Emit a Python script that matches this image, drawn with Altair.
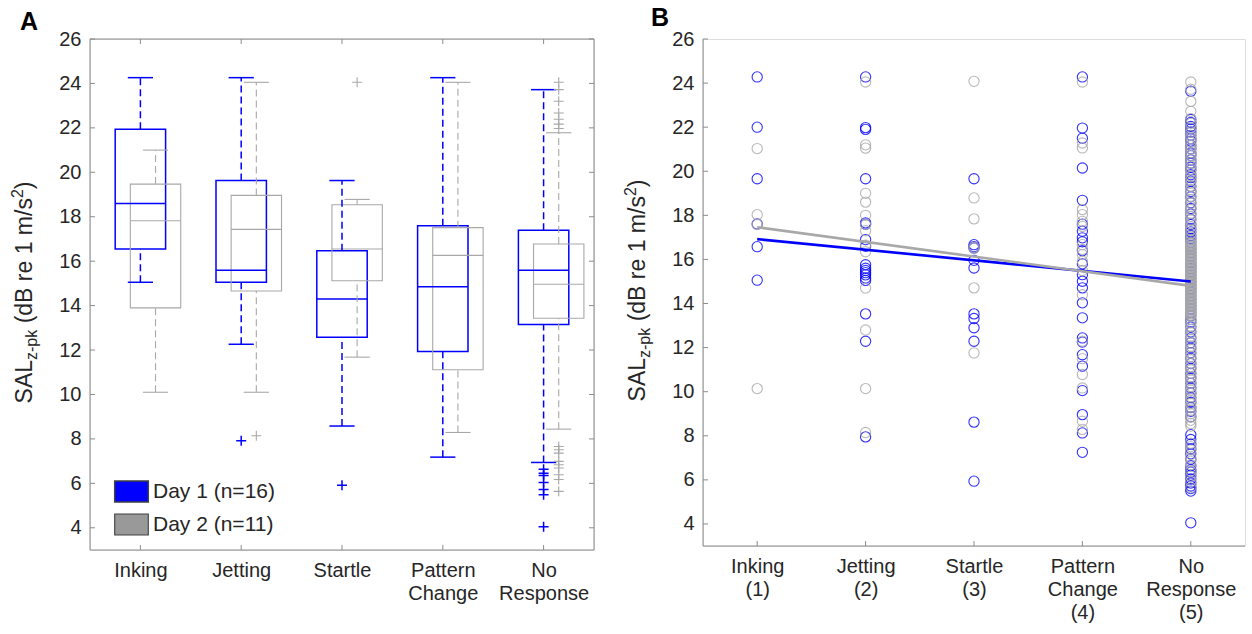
import json
import altair as alt
import pandas as pd

FONT = "Liberation Sans"
TXT = "#262626"
AXC = "#8c8c8c"
BLUE = "#0000FF"
BLUE_PT = "#2b2bff"
GRAY_BOX = "#A8A8A8"
GRAY_SW = "#999999"
GRAY_PT = "#A3A3A3"
GRAY_FIT = "#8C8C8C"

CATS = [1, 2, 3, 4, 5]
A_LABELS = ["Inking", "Jetting", "Startle", "Pattern Change", "No Response"]
B_LABELS = ["Inking (1)", "Jetting (2)", "Startle (3)", "Pattern Change (4)", "No Response (5)"]
DAYS = ["Day 1 (n=16)", "Day 2 (n=11)"]
Y_TICKS = [4, 6, 8, 10, 12, 14, 16, 18, 20, 22, 24, 26]

# ---- Panel A box statistics ----
D1_LO = [15.05, 12.26, 8.58, 7.18, 6.94]
D1_Q1 = [16.55, 15.05, 12.58, 11.93, 13.15]
D1_MED = [18.60, 15.59, 14.30, 14.85, 15.59]
D1_Q3 = [21.94, 19.63, 16.47, 17.60, 17.39]
D1_HI = [24.26, 24.26, 19.63, 24.26, 23.72]

D2_LO = [10.10, 10.10, 11.68, 8.29, 8.44]
D2_Q1 = [13.90, 14.66, 15.12, 11.11, 13.43]
D2_MED = [17.82, 17.43, 16.55, 16.26, 14.96]
D2_Q3 = [19.47, 18.96, 18.54, 17.51, 16.77]
D2_HI = [21.00, 24.05, 18.78, 24.05, 21.78]

D1_OUT_CAT = [2, 3, 5, 5, 5, 5, 5, 5, 5]
D1_OUT_VAL = [7.92, 5.91, 6.64, 6.46, 6.35, 6.04, 5.72, 5.49, 4.05]
D2_OUT_CAT = [2, 3] + [5] * 16
D2_OUT_VAL = [8.14, 24.05, 24.05, 23.72, 23.20, 22.67, 22.39, 22.17, 21.97,
              7.66, 7.51, 7.36, 6.99, 6.84, 6.69, 6.39, 6.17, 5.64]

# ---- Panel B individual values ----
B1_INK = [24.28, 22.00, 19.66, 17.61, 16.58, 15.06]
B1_JET = [24.28, 21.98, 21.90, 19.66, 17.66, 17.60, 16.90, 16.60, 15.76, 15.60,
          15.50, 15.40, 15.30, 15.16, 15.05, 13.53, 12.29, 7.95]
B1_STA = [19.66, 16.67, 16.58, 16.52, 15.96, 15.61, 13.53, 13.32, 12.90, 12.29, 8.62, 5.94]
B1_PAT = [24.28, 21.96, 21.50, 20.15, 18.68, 17.60, 17.28, 16.98, 16.80, 16.40, 15.80,
          15.31, 15.01, 14.71, 14.03, 13.35, 12.44, 12.25, 11.68, 11.16, 10.05, 8.96, 8.13, 7.25]
B1_NOR = [23.63, 22.35, 22.21, 22.03, 21.92, 21.78, 21.63, 21.48, 21.37, 21.18, 21.02,
          20.83, 20.71, 20.52, 20.37, 20.18, 20.06, 19.84, 19.71, 19.55, 19.31, 19.08,
          18.84, 18.57, 18.31, 18.06, 17.82, 17.58, 17.39,
          17.25, 17.09, 16.94, 16.78, 16.62, 16.47, 16.31, 16.16, 16.02, 15.86, 15.71,
          15.59, 15.44, 15.29, 15.13, 14.98, 14.82, 14.67, 14.51, 14.36, 14.21, 14.05,
          13.90, 13.75, 13.59, 13.44, 13.28, 13.15,
          12.93, 12.71, 12.44, 12.22, 11.98, 11.77, 11.52, 11.28, 11.06, 10.83, 10.62,
          10.38, 10.17, 9.94, 9.73, 9.52, 9.28, 9.11, 8.86, 8.05, 7.83, 7.62, 7.41, 7.18,
          6.94, 6.64, 6.46, 6.35, 6.21, 6.04, 5.86, 5.72, 5.61, 5.49, 4.05]

B2_INK = [21.03, 18.03, 17.58, 10.14]
B2_JET = [24.05, 21.20, 21.05, 19.00, 18.60, 18.00, 17.58, 17.30, 16.65, 16.35,
          14.70, 12.80, 10.14, 8.15]
B2_STA = [24.08, 18.79, 17.84, 16.55, 16.50, 14.71, 11.76]
B2_PAT = [24.05, 21.28, 21.06, 18.26, 18.03, 17.73, 17.50, 16.67, 16.45, 16.22, 15.92,
          15.50, 14.40, 12.29, 11.50, 10.78, 10.17, 8.66, 8.29]
B2_NOR = [24.05, 23.72, 23.17, 22.72, 22.39, 22.17, 21.97,
          21.78, 21.62, 21.49, 21.31, 21.16, 21.02, 20.85, 20.71, 20.54, 20.39, 20.24,
          20.08, 19.93, 19.78, 19.61, 19.47, 19.32, 19.16, 19.01, 18.86, 18.71, 18.55,
          18.41, 18.26, 18.09, 17.95, 17.79, 17.64, 17.48, 17.33, 17.17, 17.02, 16.88,
          16.77, 16.71, 16.66, 16.61, 16.55, 16.51, 16.45, 16.40, 16.35, 16.29, 16.24,
          16.19, 16.13, 16.08, 16.03, 15.98, 15.92, 15.87, 15.82, 15.76, 15.71, 15.66,
          15.61, 15.55, 15.50, 15.45, 15.39, 15.34, 15.29, 15.24, 15.18, 15.13, 15.07,
          15.02, 14.96, 14.91, 14.86, 14.81, 14.75, 14.70, 14.65, 14.59, 14.54, 14.49,
          14.43, 14.38, 14.33, 14.28, 14.22, 14.17, 14.12, 14.06, 14.01, 13.96, 13.91,
          13.85, 13.80, 13.75, 13.69, 13.64, 13.59, 13.54, 13.48, 13.43,
          13.28, 13.13, 12.97, 12.82, 12.67, 12.52, 12.36, 12.21, 12.06, 11.91, 11.75,
          11.60, 11.45, 11.29, 11.14, 10.99, 10.84, 10.68, 10.53, 10.38, 10.23, 10.07,
          9.92, 9.77, 9.61, 9.46, 9.31, 9.16, 9.00, 8.85, 8.70, 8.56, 8.44,
          7.66, 7.51, 7.36, 6.99, 6.84, 6.69, 6.39, 6.17, 5.91, 5.64]

FIT_X = [1, 5]
D1_FIT = [16.92, 15.00]
D2_FIT = [17.46, 14.80]

# ---------------- layout constants ----------------
WA, WB, HA, HB = 504, 542, 511, 507
OFF = {DAYS[0]: 0.0, DAYS[1]: 0.15}
BOXW, CAPW = 0.25, 0.125
TICK_FS, TITLE_FS, SUB_FS = 20, 23, 16

# ---------------- data frames ----------------
rows = []
for day, lo, q1, md, q3, hi in [
    (DAYS[0], D1_LO, D1_Q1, D1_MED, D1_Q3, D1_HI),
    (DAYS[1], D2_LO, D2_Q1, D2_MED, D2_Q3, D2_HI),
]:
    for i, c in enumerate(CATS):
        p = c + OFF[day]
        rows.append(dict(day=day, pos=p, bx0=p - BOXW, bx1=p + BOXW, cx0=p - CAPW, cx1=p + CAPW,
                         lo=lo[i], q1=q1[i], med=md[i], q3=q3[i], hi=hi[i]))
box_df = pd.DataFrame(rows)

out_df = pd.DataFrame(
    [dict(day=DAYS[0], pos=c + OFF[DAYS[0]], v=v) for c, v in zip(D1_OUT_CAT, D1_OUT_VAL)]
    + [dict(day=DAYS[1], pos=c + OFF[DAYS[1]], v=v) for c, v in zip(D2_OUT_CAT, D2_OUT_VAL)]
)

pts = []
for day, lists in [(DAYS[0], [B1_INK, B1_JET, B1_STA, B1_PAT, B1_NOR]),
                   (DAYS[1], [B2_INK, B2_JET, B2_STA, B2_PAT, B2_NOR])]:
    for c, vals in zip(CATS, lists):
        for v in vals:
            pts.append(dict(day=day, cat=c, v=v))
pts_df = pd.DataFrame(pts)

fit_df = pd.DataFrame(
    [dict(day=DAYS[0], x=x, y=y) for x, y in zip(FIT_X, D1_FIT)]
    + [dict(day=DAYS[1], x=x, y=y) for x, y in zip(FIT_X, D2_FIT)]
)
yt_df = pd.DataFrame({"v": Y_TICKS})
xt_df = pd.DataFrame({"c": CATS})
one = pd.DataFrame({"a": [0]})

ys = alt.Scale(domain=[3, 26], nice=False, zero=False)
xsA = alt.Scale(domain=[0.5, 5.5], nice=False, zero=False)
xsB = alt.Scale(domain=[0.5, 5.5], nice=False, zero=False)


def lab_expr(labels):
    return "split(" + json.dumps(labels) + "[datum.value - 1], ' ')"


def x_axis(labels):
    return alt.Axis(values=CATS, labelExpr=lab_expr(labels), title=None, ticks=False, grid=False,
                    labelFont=FONT, labelFontSize=TICK_FS, labelColor=TXT, labelLineHeight=23,
                    labelPadding=10, labelBaseline="top", domain=False)


Y_AXIS = alt.Axis(values=Y_TICKS, title=None, ticks=False, grid=False, labelFont=FONT,
                  labelFontSize=TICK_FS, labelColor=TXT, labelPadding=9, domain=False)
XA_AXIS = x_axis(A_LABELS)
XB_AXIS = x_axis(B_LABELS)


def XA(f):
    return alt.X(f, scale=xsA, axis=XA_AXIS)


def XB(f):
    return alt.X(f, scale=xsB, axis=XB_AXIS)


def YY(f):
    return alt.Y(f, scale=ys, axis=Y_AXIS)


# character widths (Arial / Liberation Sans metrics, em units)
CW = {"S": .667, "A": .667, "L": .556, "z": .5, "-": .333, "p": .556, "k": .5, " ": .278,
      "(": .333, "d": .556, "B": .667, "r": .333, "e": .556, "1": .556, "m": .833, "/": .278,
      "s": .5, "2": .556, ")": .333}


def tw(s, f):
    return sum(CW.get(ch, .556) for ch in s) * f


def y_title(xb, yc):
    pieces = [("SAL", TITLE_FS, 0, 0), ("z-pk", SUB_FS, 5, 0), ("(dB re 1 m/s", TITLE_FS, 0, tw(" ", TITLE_FS)),
              ("2", SUB_FS, -9, 0), (")", TITLE_FS, 0, 0)]
    total = sum(tw(t, f) + g for t, f, _, g in pieces)
    y = yc + total / 2
    layers = []
    for t, f, dx, gap in pieces:
        y -= gap
        layers.append(alt.Chart(one).mark_text(text=t, angle=270, align="left", baseline="alphabetic",
                                               font=FONT, fontSize=f, color=TXT)
                      .encode(x=alt.value(xb + dx), y=alt.value(y)))
        y -= tw(t, f)
    return layers


def letter(t, x, y):
    return alt.Chart(one).mark_text(text=t, align="left", baseline="alphabetic", font=FONT,
                                    fontSize=25, fontWeight="bold", color="#000000").encode(
        x=alt.value(x), y=alt.value(y))


day_stroke = alt.Stroke("day:N", scale=alt.Scale(domain=DAYS, range=[BLUE, GRAY_BOX]), legend=None)
day_sw = alt.StrokeWidth("day:N", scale=alt.Scale(domain=DAYS, range=[1.5, 1.1]), legend=None)

# ---------------- Panel A ----------------
boxes = alt.Chart(box_df).mark_rect(fillOpacity=0).encode(
    x=XA("bx0:Q"), x2="bx1:Q", y=YY("q1:Q"), y2="q3:Q",
    fill=alt.Fill("day:N", scale=alt.Scale(domain=DAYS, range=[BLUE, GRAY_SW]),
                  legend=alt.Legend(title=None, orient="none", legendX=30, legendY=441,
                                    symbolType="M-1.6,-1H1.6V1H-1.6Z", symbolSize=441,
                                    symbolStrokeColor="#404040", symbolStrokeWidth=1,
                                    symbolOpacity=1, labelFont=FONT, labelFontSize=21,
                                    labelColor=TXT, rowPadding=6, labelOffset=10)),
    stroke=day_stroke, strokeWidth=day_sw,
)
medians = alt.Chart(box_df).mark_rule().encode(
    x=XA("bx0:Q"), x2="bx1:Q", y=YY("med:Q"), stroke=day_stroke, strokeWidth=day_sw)
wh_up = alt.Chart(box_df).mark_rule(strokeDash=[7, 4]).encode(
    x=XA("pos:Q"), y=YY("q3:Q"), y2="hi:Q", stroke=day_stroke, strokeWidth=day_sw)
wh_lo = alt.Chart(box_df).mark_rule(strokeDash=[7, 4]).encode(
    x=XA("pos:Q"), y=YY("lo:Q"), y2="q1:Q", stroke=day_stroke, strokeWidth=day_sw)
cap_hi = alt.Chart(box_df).mark_rule().encode(
    x=XA("cx0:Q"), x2="cx1:Q", y=YY("hi:Q"), stroke=day_stroke, strokeWidth=day_sw)
cap_lo = alt.Chart(box_df).mark_rule().encode(
    x=XA("cx0:Q"), x2="cx1:Q", y=YY("lo:Q"), stroke=day_stroke, strokeWidth=day_sw)
outl = alt.Chart(out_df).mark_point(shape="M-1,0H1M0,-1V1", size=100, filled=False, opacity=1).encode(
    x=XA("pos:Q"), y=YY("v:Q"), stroke=day_stroke, strokeWidth=day_sw)


def ticks_y(W, both):
    ls = [alt.Chart(yt_df).mark_rule(color=AXC, strokeWidth=1).encode(
        y=YY("v:Q"), x=alt.value(0), x2=alt.value(5))]
    if both:
        ls.append(alt.Chart(yt_df).mark_rule(color=AXC, strokeWidth=1).encode(
            y=YY("v:Q"), x=alt.value(W - 5), x2=alt.value(W)))
    return ls


def ticks_x(XF, H, both):
    ls = [alt.Chart(xt_df).mark_rule(color=AXC, strokeWidth=1).encode(
        x=XF("c:Q"), y=alt.value(H - 5), y2=alt.value(H))]
    if both:
        ls.append(alt.Chart(xt_df).mark_rule(color=AXC, strokeWidth=1).encode(
            x=XF("c:Q"), y=alt.value(0), y2=alt.value(5)))
    return ls


def hline(y, x0, x1):
    return alt.Chart(one).mark_rule(color=AXC, strokeWidth=1).encode(
        y=alt.value(y), x=alt.value(x0), x2=alt.value(x1))


def vline(x, y0, y1):
    return alt.Chart(one).mark_rule(color=AXC, strokeWidth=1).encode(
        x=alt.value(x), y=alt.value(y0), y2=alt.value(y1))


panelA = alt.layer(
    boxes, medians, wh_up, wh_lo, cap_hi, cap_lo, outl,
    *ticks_y(WA, True), *ticks_x(XA, HA, True),
    vline(0, 0, HA), vline(WA, 0, HA), hline(0, 0, WA), hline(HA, 0, WA),
    *y_title(-58, HA / 2 - 2), letter("A", -70, -9),
).properties(width=WA, height=HA)

# ---------------- Panel B ----------------
pt_color = alt.Stroke("day:N", scale=alt.Scale(domain=DAYS, range=[BLUE_PT, GRAY_PT]), legend=None)
pts_layer = alt.Chart(pts_df).mark_point(shape="circle", size=105, filled=False, strokeWidth=1.1,
                                         opacity=0.8).encode(
    x=XB("cat:Q"), y=YY("v:Q"), stroke=pt_color,
)
fit_layer = alt.Chart(fit_df).mark_line(strokeWidth=2.6).encode(
    x=XB("x:Q"), y=YY("y:Q"),
    stroke=alt.Stroke("day:N", scale=alt.Scale(domain=DAYS[::-1], range=[GRAY_FIT, BLUE]), legend=None),
    detail="day:N", order=alt.Order("x:Q"),
)
panelB = alt.layer(
    pts_layer, fit_layer, *ticks_y(WB, False), *ticks_x(XB, HB, False),
    vline(0, 0, HB), hline(HB, 0, WB),
    *y_title(-58, HB / 2 - 2), letter("B", -52, -13),
).properties(width=WB, height=HB)

chart = alt.hconcat(panelA, panelB, spacing=27).properties(
    padding={"left": 9, "top": 5, "right": 5, "bottom": 5}
).configure_view(strokeWidth=0, stroke="transparent").configure(font=FONT)

chart.save("out.html", embed_options={"renderer": "svg", "actions": False})
